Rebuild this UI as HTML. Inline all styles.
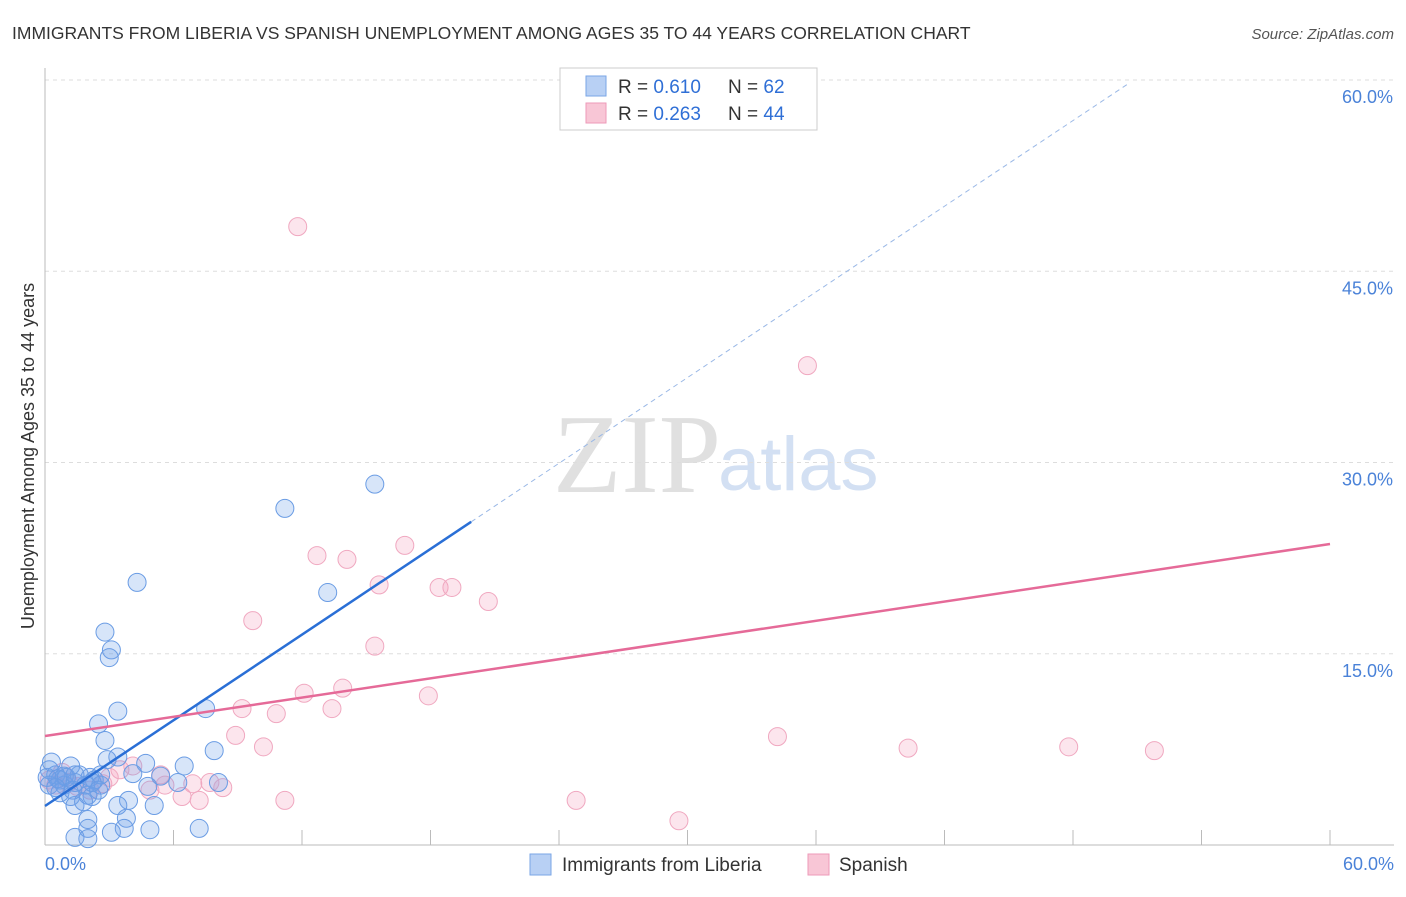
<!DOCTYPE html>
<html><head><meta charset="utf-8"><style>
body{margin:0;background:#fff;font-family:"Liberation Sans",sans-serif}
#wrap{position:relative;width:1406px;height:892px}
</style></head><body>
<div id="wrap">
<svg id="svg" width="1406" height="892" xmlns="http://www.w3.org/2000/svg">
<text x="12" y="39" font-size="17.5" fill="#333">IMMIGRANTS FROM LIBERIA VS SPANISH UNEMPLOYMENT AMONG AGES 35 TO 44 YEARS CORRELATION CHART</text>
<text x="1394" y="39" font-size="15" fill="#555" text-anchor="end" font-style="italic">Source: ZipAtlas.com</text>
<text transform="translate(34,456) rotate(-90)" font-size="18" fill="#333" text-anchor="middle">Unemployment Among Ages 35 to 44 years</text>
<text x="553" y="492" font-size="112" fill="#e0e0e0" font-family="Liberation Serif">ZIP</text>
<text x="718" y="490" font-size="76" fill="#d3e0f3">atlas</text>
<g id="grid"></g><g id="marks"></g><g id="lines"></g>
<g>
<rect x="560" y="68" width="257" height="62" fill="#fff" stroke="#ccc"/>
<rect x="586" y="76" width="20" height="20" fill="#b8d0f4" stroke="#7aa6e6"/>
<rect x="586" y="103" width="20" height="20" fill="#f8c6d6" stroke="#ee9ab8"/>
<text x="618" y="93" font-size="19" fill="#333">R = <tspan fill="#2f6fd6">0.610</tspan></text>
<text x="728" y="93" font-size="19" fill="#333">N = <tspan fill="#2f6fd6">62</tspan></text>
<text x="618" y="120" font-size="19" fill="#333">R = <tspan fill="#2f6fd6">0.263</tspan></text>
<text x="728" y="120" font-size="19" fill="#333">N = <tspan fill="#2f6fd6">44</tspan></text>
</g>
<g>
<rect x="530" y="854" width="21" height="21" fill="#b8d0f4" stroke="#7aa6e6"/>
<text x="562" y="871" font-size="19" fill="#333">Immigrants from Liberia</text>
<rect x="808" y="854" width="21" height="21" fill="#f8c6d6" stroke="#ee9ab8"/>
<text x="839" y="871" font-size="19" fill="#333">Spanish</text>
</g>
</svg></div>
<script>
const yTicks=[15,30,45,60];
const yTickLabels=["15.0%","30.0%","45.0%","60.0%"];
const xTicks=[0,6,12,18,24,30,36,42,48,54,60];
const blueX=[15.4,11.2,4.3,13.2,2.8,3.1,3.0,3.4,7.5,2.5,2.8,7.9,3.4,2.9,6.5,4.7,4.1,5.4,0.2,0.5,1.2,1.6,2.1,2.3,0.7,0.9,1.4,1.9,2.6,0.2,6.2,8.1,4.8,0.7,2.0,1.2,2.2,3.9,3.4,5.1,1.4,1.8,3.8,2.0,3.1,3.7,4.9,7.2,2.0,1.4,2.0,0.1,0.3,2.6,0.9,1.4,0.6,1.0,2.2,2.5,0.5,1.3];
const blueY=[28.3,26.4,20.6,19.8,16.7,15.3,14.7,10.5,10.7,9.5,8.2,7.4,6.9,6.7,6.2,6.4,5.6,5.4,5.9,5.5,6.2,5.5,5.3,5.1,5.1,4.7,4.9,4.7,4.7,4.7,4.9,4.9,4.6,4.1,3.9,3.8,3.8,3.5,3.1,3.1,3.1,3.4,2.1,2.0,1.0,1.3,1.2,1.3,1.3,0.6,0.5,5.3,6.5,5.5,5.4,5.5,5.2,5.3,4.9,4.3,4.5,4.3];
const pinkX=[11.8,35.6,16.8,12.7,14.1,15.6,18.4,19.0,20.7,9.7,15.4,12.1,13.9,17.9,9.2,10.8,13.4,8.9,10.2,34.2,40.3,47.8,51.8,3.5,4.1,5.4,5.6,6.4,7.2,6.9,7.7,8.3,11.2,24.8,29.6,2.7,2.1,0.5,0.2,1.1,3.0,4.9,1.5,0.8];
const pinkY=[48.5,37.6,23.5,22.7,22.4,20.4,20.2,20.2,19.1,17.6,15.6,11.9,12.3,11.7,10.7,10.3,10.7,8.6,7.7,8.5,7.6,7.7,7.4,5.9,6.2,5.5,4.7,3.8,3.5,4.8,4.9,4.5,3.5,3.5,1.9,4.8,4.3,4.7,5.1,4.9,5.3,4.3,4.6,5.7];
const blueTrend=[3.06,1.12,19.9,50.65];
const pinkTrend=[8.55,0.251];
const X=v=>45+v*1285/60, Y=v=>845-v*765/60;
const NS="http://www.w3.org/2000/svg";
function mk(t,a,p){const e=document.createElementNS(NS,t);for(const k in a)e.setAttribute(k,a[k]);p.appendChild(e);return e;}
const grid=document.getElementById('grid'),marks=document.getElementById('marks'),lines=document.getElementById('lines');
yTicks.forEach((t,i)=>{
 const l=mk('line',{x1:45,x2:1394,y1:Y(t),y2:Y(t),stroke:'#ddd','stroke-dasharray':'4,4'},grid);
 
 
 const tx=mk('text',{x:1393,y:Y(t)+23,'font-size':18,fill:'#4a82d8','text-anchor':'end'},grid);
 tx.textContent=yTickLabels[i];
 
 
});
const ax=mk('line',{x1:45,x2:1394,y1:845,y2:845,stroke:'#bbb'},grid);


const ay=mk('line',{x1:45,x2:45,y1:68,y2:845,stroke:'#bbb'},grid);


xTicks.forEach(t=>{const l=mk('line',{x1:X(t),x2:X(t),y1:830,y2:845,stroke:'#bbb'},grid);
 
 });
[[0,'0.0%','start',45],[60,'60.0%','end',1394]].forEach(d=>{const t=mk('text',{x:d[3],y:870,'font-size':18,fill:'#4a82d8','text-anchor':d[2]},grid);t.textContent=d[1];
 
 });
pinkX.forEach((v,i)=>{const c=mk('circle',{cx:X(v),cy:Y(pinkY[i]),r:9,fill:'rgba(244,160,190,0.28)',stroke:'#f0a8c0','stroke-width':1},marks);
 
 });
blueX.forEach((v,i)=>{const c=mk('circle',{cx:X(v),cy:Y(blueY[i]),r:9,fill:'rgba(110,160,235,0.28)',stroke:'#6a9ce4','stroke-width':1},marks);
 
 });
const b=blueTrend;
const bl=mk('line',{x1:X(0),y1:Y(b[0]),x2:X(b[2]),y2:Y(b[0]+b[1]*b[2]),stroke:'#2a6fd6','stroke-width':2.5},lines);


const bd=mk('line',{x1:X(b[2]),y1:Y(b[0]+b[1]*b[2]),x2:X(b[3]),y2:Y(b[0]+b[1]*b[3]),stroke:'#9ab8e6','stroke-width':1,'stroke-dasharray':'5,4'},lines);


const pl=mk('line',{x1:X(0),y1:Y(pinkTrend[0]),x2:X(60),y2:Y(pinkTrend[0]+pinkTrend[1]*60),stroke:'#e56a98','stroke-width':2.5},lines);


</script>
</body></html>
